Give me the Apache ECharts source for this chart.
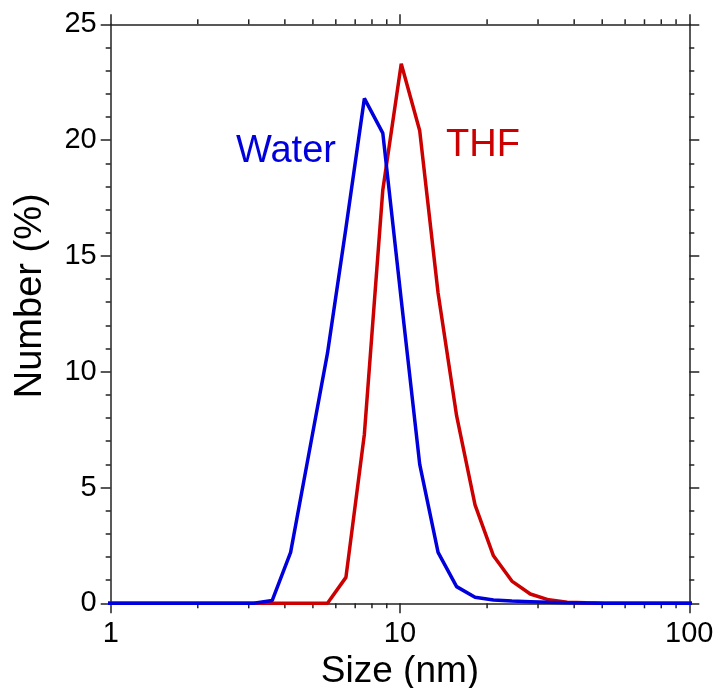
<!DOCTYPE html>
<html>
<head>
<meta charset="utf-8">
<script src="https://cdn.jsdelivr.net/npm/echarts@6/dist/echarts.min.js"></script>
<style>
  html, body { margin: 0; padding: 0; background: #fff; }
  #chart { width: 721px; height: 688px; }
</style>
</head>
<body>
<div id="chart"></div>
<script>
// Zetasizer size bins (nm)
var sizes = [0.9649, 1.117, 1.294, 1.499, 1.736, 2.01, 2.328, 2.696, 3.122, 3.615, 4.187,
  4.849, 5.615, 6.503, 7.531, 8.721, 10.1, 11.7, 13.54, 15.69, 18.17, 21.04, 24.36, 28.21,
  32.67, 37.84, 43.82, 50.75, 58.77, 68.06, 78.82, 91.28, 105.7];

// number distribution (%)
var water = [0, 0, 0, 0, 0, 0, 0, 0, 0, 0.12, 2.2,
  6.5, 10.8, 16.2, 21.8, 20.3, 13.1, 6.0, 2.2, 0.72, 0.26, 0.14, 0.1, 0.07,
  0.04, 0.02, 0.01, 0, 0, 0, 0, 0, 0];
var thf = [0, 0, 0, 0, 0, 0, 0, 0, 0, 0, 0,
  0, 0, 1.12, 7.3, 17.85, 23.3, 20.4, 13.4, 8.1, 4.25, 2.05, 0.96, 0.4,
  0.15, 0.05, 0.02, 0, 0, 0, 0, 0, 0];

// minor ticks on the log axis
var xMinorTicks = [2, 3, 4, 5, 6, 7, 8, 9, 20, 30, 40, 50, 60, 70, 80, 90];

var FONT = '"Liberation Sans", Arial, sans-serif';
var AXIS_COLOR = '#222';

function pairs(xs, ys) {
  return xs.map(function (x, i) { return [x, ys[i]]; });
}

var chart = echarts.init(document.getElementById('chart'));

var axisLine = { show: true, onZero: false, lineStyle: { color: AXIS_COLOR, width: 1.5 } };
var axisTick = { show: true, inside: false, length: 10, lineStyle: { color: AXIS_COLOR, width: 1.5 } };
var minorTick = { show: true, splitNumber: 5, length: 5, lineStyle: { color: AXIS_COLOR, width: 1.5 } };

var option = {
  animation: false,
  backgroundColor: '#fff',
  grid: { left: 110.7, right: 31.7, top: 24.3, bottom: 84.7, containLabel: false, outerBoundsMode: 'none' },
  xAxis: [
    {
      type: 'log', logBase: 10, min: 1, max: 100, position: 'bottom',
      name: 'Size (nm)', nameLocation: 'middle', nameGap: 43,
      nameTextStyle: { fontFamily: FONT, fontSize: 37, color: '#000' },
      axisLine: axisLine, axisTick: axisTick, minorTick: { show: false },
      splitLine: { show: false },
      axisLabel: { fontFamily: FONT, fontSize: 29, color: '#000', margin: 16 }
    },
    {
      type: 'log', logBase: 10, min: 1, max: 100, position: 'top',
      axisLine: axisLine, axisTick: axisTick, minorTick: { show: false },
      splitLine: { show: false }, axisLabel: { show: false }
    }
  ],
  yAxis: [
    {
      type: 'value', min: 0, max: 25, interval: 5, position: 'left',
      name: 'Number (%)', nameLocation: 'middle', nameGap: 61, nameRotate: 90,
      nameTextStyle: { fontFamily: FONT, fontSize: 38, color: '#000', padding: [0, 0, 0, 36] },
      axisLine: axisLine, axisTick: axisTick, minorTick: minorTick,
      splitLine: { show: false },
      axisLabel: { fontFamily: FONT, fontSize: 29, color: '#000', margin: 14 }
    },
    {
      type: 'value', min: 0, max: 25, interval: 5, position: 'right',
      axisLine: axisLine, axisTick: axisTick, minorTick: minorTick,
      splitLine: { show: false }, axisLabel: { show: false }
    }
  ],
  graphic: [
    { type: 'text', left: 236, top: 133,
      style: { text: 'Water', font: '38px ' + FONT, fill: '#0000dd' } },
    { type: 'text', left: 446, top: 127,
      style: { text: 'THF', font: '38px ' + FONT, fill: '#cc0000' } }
  ],
  series: [
    {
      type: 'custom', silent: true, xAxisIndex: 0, yAxisIndex: 0,
      data: xMinorTicks.map(function (v) { return [v, 0]; }),
      renderItem: function (params, api) {
        var pb = api.coord([api.value(0), 0]);
        var pt = api.coord([api.value(0), 25]);
        var st = { stroke: AXIS_COLOR, lineWidth: 1.5 };
        return {
          type: 'group',
          children: [
            { type: 'line', shape: { x1: pb[0], y1: pb[1], x2: pb[0], y2: pb[1] + 5 }, style: st },
            { type: 'line', shape: { x1: pt[0], y1: pt[1], x2: pt[0], y2: pt[1] - 5 }, style: st }
          ]
        };
      }
    },
    {
      name: 'THF', type: 'line', data: pairs(sizes, thf), showSymbol: false, clip: true,
      lineStyle: { color: '#cc0000', width: 3.5 }, itemStyle: { color: '#cc0000' }
    },
    {
      name: 'Water', type: 'line', data: pairs(sizes, water), showSymbol: false, clip: true,
      lineStyle: { color: '#0000dd', width: 3.5 }, itemStyle: { color: '#0000dd' }
    }
  ]
};

chart.setOption(option);
</script>
</body>
</html>
